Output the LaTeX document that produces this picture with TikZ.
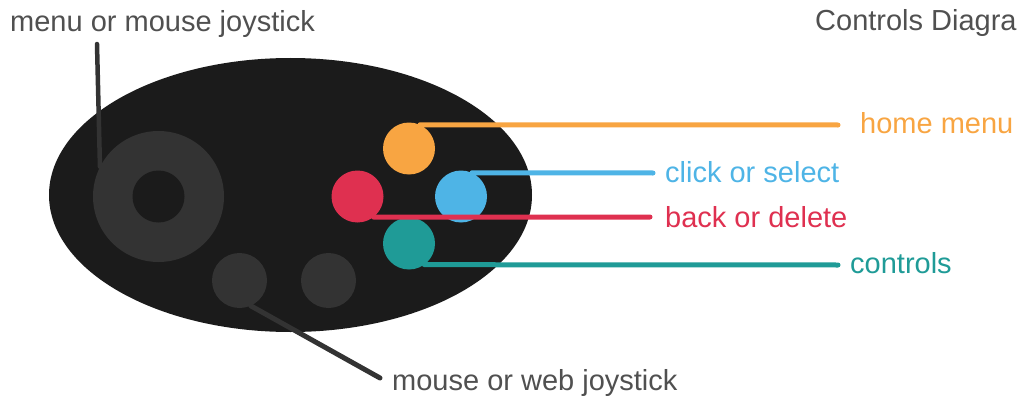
\documentclass[tikz,border=0pt]{standalone}
\usepackage{fontspec}
\setmainfont{Liberation Sans}
\definecolor{body}{HTML}{1B1B1B}
\definecolor{knob}{HTML}{333333}
\definecolor{corange}{HTML}{F8A542}
\definecolor{cblue}{HTML}{4EB4E6}
\definecolor{cred}{HTML}{DF3050}
\definecolor{cteal}{HTML}{1F9B97}
\definecolor{labelgray}{HTML}{505050}
\begin{document}
\begin{tikzpicture}[x=1pt,y=-1pt,
  btn/.style={circle,inner sep=0pt,minimum size=#1},
  lead/.style={line width=5pt,line cap=round},
  lbl/.style={anchor=base west,inner sep=0pt,font=\fontsize{29}{34}\selectfont}]
\useasboundingbox (0,0) rectangle (1018,396);
% body
\fill[body] (290.5,195) ellipse [x radius=241.5pt,y radius=137pt];
% labels
\node[lbl,text=labelgray] (menulbl) at (10,32) {menu or mouse joystick};
\node[lbl,text=labelgray] (title) at (815,31) {Controls Diagra};
\node[lbl,text=labelgray] (mouselbl) at (392,390) {mouse or web joystick};
\node[lbl,text=corange] (homelbl) at (860,133) {home menu};
\node[lbl,text=cblue] (clicklbl) at (665,182) {click or select};
\node[lbl,text=cred] (backlbl) at (665,227) {back or delete};
\node[lbl,text=cteal] (ctrllbl) at (850,273) {controls};
% free ends of leaders
\coordinate (menuend) at (97,44);
\coordinate (mouseend) at (380,378);
\coordinate (homeend) at (838,125);
\coordinate (clickend) at (653,173);
\coordinate (backend) at (650,217);
\coordinate (ctrlend) at (838,265);
% joystick ring
\node[btn=131pt,fill=knob] (ring) at (158.5,196.5) {};
\node[btn=52pt,fill=body] (hole) at (158.5,196.5) {};
\draw[lead,knob,line width=4.5pt] (menuend) -- (ring.153);
% small buttons
\node[btn=55pt,fill=knob] (mousebtn) at (239.5,280.5) {};
\node[btn=55pt,fill=knob] (rightbtn) at (328.5,280.5) {};
\draw[lead,knob] (mousebtn.-66) -- (mouseend);
% colour buttons
\node[btn=52pt,fill=corange] (orange) at (409,148.5) {};
\node[btn=52pt,fill=cblue] (blue) at (461,196.5) {};
\node[btn=52pt,fill=cteal] (teal) at (409,243.5) {};
\node[btn=52pt,fill=cred] (red) at (357.5,196.5) {};
\draw[lead,corange] (orange.65) -- (homeend);
\draw[lead,cblue] (blue.65) -- (clickend);
\draw[lead,cred] (red.-52) -- (backend);
\draw[lead,cteal] (teal.-54) -- (ctrlend);
\end{tikzpicture}
\end{document}
